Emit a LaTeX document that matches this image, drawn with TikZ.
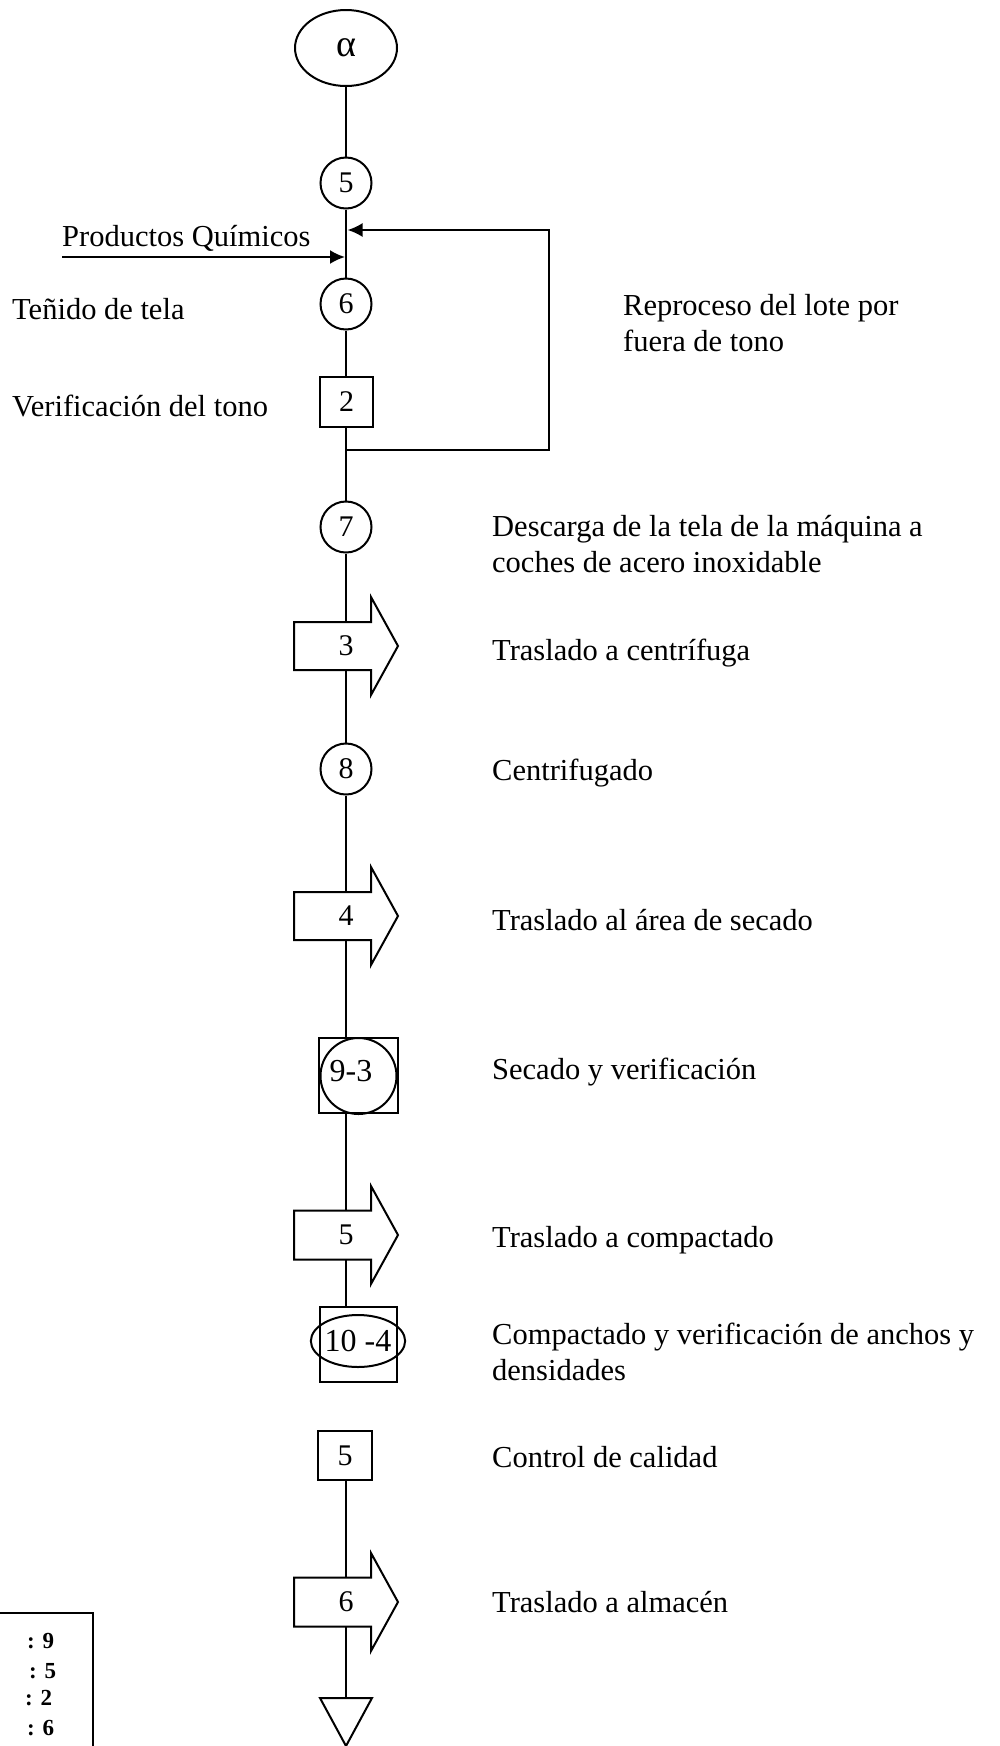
\documentclass[tikz,border=0pt]{standalone}
\usepackage{fontspec}
\setmainfont{Liberation Serif}
\usetikzlibrary{arrows.meta,shapes.geometric}
\begin{document}
\begin{tikzpicture}[x=1pt,y=-1pt,
  ln/.style={line width=2.2pt},
  circ/.style={circle, draw, line width=2pt, minimum size=51pt, inner sep=0pt, fill=white, font=\fontsize{30}{30}\selectfont},
  sqr/.style={rectangle, draw, line width=2pt, inner sep=0pt, fill=white, font=\fontsize{30}{30}\selectfont},
  lbl/.style={anchor=base west, inner sep=0pt, font=\fontsize{30.5}{35.5}\selectfont, align=left},
  num/.style={inner sep=0pt, minimum height=48pt, font=\fontsize{30}{30}\selectfont},
  moveshape/.style={line width=2pt, fill=white, line join=miter},
  arr/.style={-{Latex[length=15pt,width=14pt]}, line width=2.2pt},
  leg/.style={anchor=base west, inner sep=0pt, font=\bfseries\fontsize{23}{23}\selectfont},
]
\useasboundingbox (0,0) rectangle (999,1746);

% ---- symbols on the main line
\node[draw, ellipse, line width=2pt, minimum width=102pt, minimum height=76pt, inner sep=0pt, font=\fontsize{38}{38}\selectfont] (alpha) at (346,48) {α};
\node[circ] (c5) at (346,183) {5};
\node[circ] (c6) at (346,304) {6};
\node[sqr, minimum width=53pt, minimum height=50pt] (s2) at (346.5,402) {2};
\node[circ] (c7) at (346,527) {7};

\draw[moveshape] (294,622) -- (371,622) -- (371,597) -- (398,646) -- (371,695) -- (371,670) -- (294,670) -- cycle;
\node[num] (n3) at (346,646) {3};

\node[circ] (c8) at (346,769) {8};

\draw[moveshape] (294,892) -- (371,892) -- (371,867) -- (398,916) -- (371,965) -- (371,940) -- (294,940) -- cycle;
\node[num] (n4) at (346,916) {4};

\node[sqr, minimum width=79pt, minimum height=75pt] (q9) at (358.5,1075.5) {};
\node[circle, draw, line width=2pt, minimum size=76pt, inner sep=0pt] (o9) at (358.5,1076) {};
\node[inner sep=0pt, font=\fontsize{32}{32}\selectfont] (t9) at (351,1071) {9-3};

\draw[moveshape] (294,1210.5) -- (371,1210.5) -- (371,1186) -- (398,1235) -- (371,1284) -- (371,1259.5) -- (294,1259.5) -- cycle;
\node[num] (n5) at (346,1235) {5};

\node[sqr, minimum width=77pt, minimum height=75pt] (q10) at (358.5,1344.5) {};
\node[ellipse, draw, line width=2pt, minimum width=74pt, minimum height=52pt, inner sep=0pt, font=\fontsize{32}{32}\selectfont] (o10) at (358,1341) {10 -4};

\node[sqr, minimum width=54pt, minimum height=49pt] (s5) at (345,1455.5) {5};

\draw[moveshape] (294,1577.5) -- (371,1577.5) -- (371,1553) -- (398,1602) -- (371,1651) -- (371,1626.5) -- (294,1626.5) -- cycle;
\node[num] (n6) at (346,1602) {6};

\coordinate (tri) at (346,1698);
\draw[line width=2pt, line join=miter] (320,1698) -- (372,1698) -- (346,1746) -- cycle;

% ---- main line
\draw[ln] (alpha.south) -- (c5.north);
\draw[ln] (c5.south) -- (c6.north);
\draw[ln] (c6.south) -- (s2.north -| c6.south);
\draw[ln] (s2.south -| c7.north) -- (c7.north);
\draw[ln] (c7.south) -- (n3.north);
\draw[ln] (n3.south) -- (c8.north);
\draw[ln] (c8.south) -- (n4.north);
\draw[ln] (n4.south) -- (n4.south |- q9.north);
\draw[ln] (n5.north |- q9.south) -- (n5.north);
\draw[ln] (n5.south) -- (n5.south |- q10.north);
\draw[ln] (s5.north -| n5.south) -- (s5.north -| n5.south |- q10.south);
\draw[ln] (s5.south -| n6.north) -- (n6.north);
\draw[ln] (n6.south) -- (tri);

% ---- rework loop and chemicals input
\coordinate (fbj) at (346,450);
\coordinate (fbr) at (549,450);
\coordinate (fbt) at (549,230);
\coordinate (fbe) at (347.5,230);
\draw[arr, line join=miter] (fbj) -- (fbr) -- (fbt) -- (fbe);
\coordinate (pq) at (62,257);
\coordinate (pqe) at (345,257);
\draw[arr] (pq) -- (pqe);

% ---- labels (for two-line labels the base is the last line)
\node[lbl] (lpq) at (62,246) {Productos Químicos};
\node[lbl] (l6) at (12,319) {Teñido de tela};
\node[lbl] (l2) at (12,416) {Verificación del tono};
\node[lbl] (lrep) at (623,351) {Reproceso del lote por\\fuera de tono};
\node[lbl] (l7) at (492,572) {Descarga de la tela de la máquina a\\coches de acero inoxidable};
\node[lbl] (l3) at (492,660) {Traslado a centrífuga};
\node[lbl] (l8) at (492,780) {Centrifugado};
\node[lbl] (l4) at (492,930) {Traslado al área de secado};
\node[lbl] (l9) at (492,1079) {Secado y verificación};
\node[lbl] (l5) at (492,1247) {Traslado a compactado};
\node[lbl] (l10) at (492,1380) {Compactado y verificación de anchos y\\densidades};
\node[lbl] (ls5) at (492,1467) {Control de calidad};
\node[lbl] (l6b) at (492,1612) {Traslado a almacén};

% ---- summary box (cut by the page edge)
\draw[line width=2pt] (-5,1613) -- (93,1613) -- (93,1760);
\node[leg] (g1) at (27,1648) {: 9};
\node[leg] (g2) at (29,1678) {: 5};
\node[leg] (g3) at (25,1705) {: 2};
\node[leg] (g4) at (27,1735) {: 6};
\end{tikzpicture}
\end{document}
